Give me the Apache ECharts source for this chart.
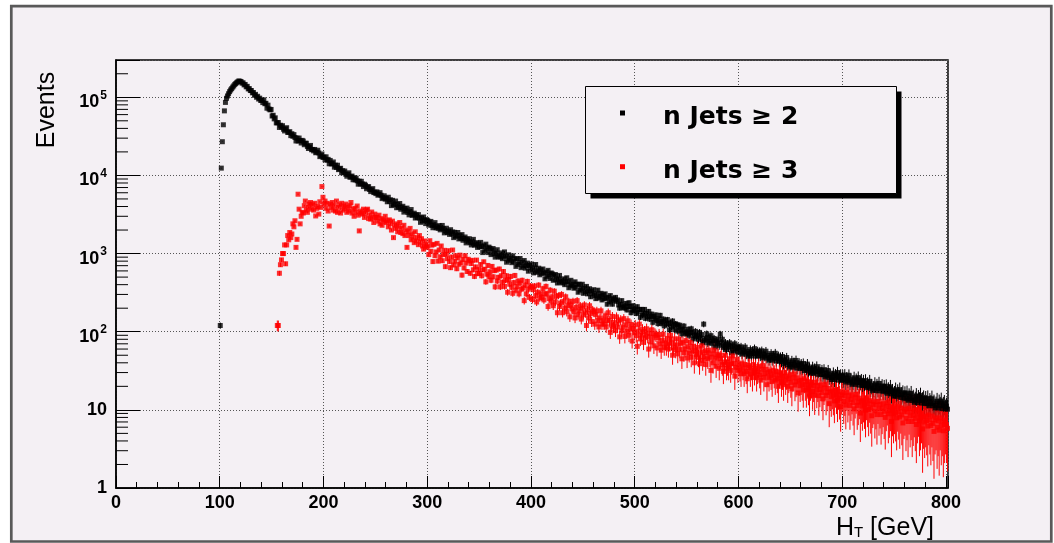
<!DOCTYPE html>
<html>
<head>
<meta charset="utf-8">
<script src="https://cdn.jsdelivr.net/npm/echarts@6/dist/echarts.min.js"></script>
<style>
html,body{margin:0;padding:0;background:#ffffff;}
#chart{width:1054px;height:543px;}
</style>
</head>
<body>
<div id="chart"></div>
<script>
// ---------------- data ----------------
const seriesNames = ['n Jets \u2265 2', 'n Jets \u2265 3'];
const xAxisTitle = 'H';
const xAxisTitleSub = 'T';
const xAxisTitleUnit = ' [GeV]';
const yAxisTitle = 'Events';
const xMin = 0, xMax = 802, xStep = 100;
const yMin = 1, yMax = 3e5;
const binWidth = 1;
const nJets2FirstBin = 100;
const nJets3FirstBin = 155;

// events per 1 GeV bin, n Jets >= 2 (black), bins 100..801
const nJets2 = [
120,12400,27000,44500,67000,86000,97000,104000,111000,118000,
124000,129000,135000,140000,146000,150000,155000,158000,162000,160000,
159000,152000,153000,144000,146000,136000,138000,128000,129000,122000,
122000,114000,115000,106000,109000,100000,103000,95000,97500,91000,
91900,85500,92700,82700,83800,72500,79300,70800,69000,69900,
57600,58900,52900,54600,47000,47200,47500,41100,43900,41600,
43300,39000,37100,39400,40800,35500,35600,36300,32300,34200,
31700,33300,30600,27600,30000,27600,30100,27900,26000,28100,
27500,24700,25800,25800,23500,22100,23100,24200,21300,21500,
20600,21500,19500,19900,21000,19400,17400,17900,18800,17000,
17170,15870,17300,15630,16050,14100,15550,14050,14150,14870,
12760,13530,12650,13510,11860,12140,12340,10800,11520,10930,
11390,10340,9770,10340,10800,9470,9570,9820,8800,9350,
8770,9240,8540,7730,8440,7780,8410,7780,7200,7720,
7490,6750,7120,7190,6600,6210,6520,6780,6030,6110,
5850,6160,5580,5730,6020,5580,5050,5220,5490,4970,
5090,4600,5260,4650,4880,4110,4800,4220,4320,4700,
3860,4240,3920,4370,3690,3870,4030,3390,3770,3550,
3820,3360,3130,3430,3660,3080,3160,3290,2850,3130,
2890,3150,2850,2510,2870,2610,2940,2670,2420,2720,
2640,2310,2510,2580,2300,2140,2320,2490,2140,2210,
2100,2280,2010,2110,2290,2080,1840,1950,2110,1860,
1930,1760,2020,1790,1890,1600,1870,1660,1705,1860,
1540,1700,1570,1750,1480,1560,1630,1370,1530,1440,
1550,1380,1290,1410,1520,1280,1320,1380,1200,1330,
1220,1390,1225,1030,1260,1100,1320,1170,1030,1210,
1170,970,1110,1160,1000,900,1020,1120,910,960,
900,1020,860,930,1050,930,775,855,965,820,
870,765,935,790,860,685,860,725,762,865,
660,770,695,815,650,705,755,595,705,655,
735,620,565,655,725,575,600,650,535,620,
560,635,560,475,580,510,610,540,480,565,
550,455,520,540,465,420,475,525,430,450,
420,475,400,435,490,435,365,400,455,385,
405,360,435,370,405,320,405,340,357,405,
310,360,325,380,305,330,355,280,330,305,
345,290,265,305,340,270,285,310,255,295,
265,305,268,225,275,240,290,255,225,265,
255,275,245,255,220,200,225,250,205,215,
200,230,190,210,235,210,175,190,215,185,
195,171,209,178,193,153,193,163,170,193,
148,172,156,182,145,158,168,132,156,146,
164,139,127,146,162,128,135,145,119,139,
125,143,126,106,130,115,137,121,106,126,
123,102,116,121,105,94,107,118,96,100,
94,107,90,97,109,97,81,89,101,86,
91,80,98,83,92,73,125,78,82,94,
72,84,76,89,71,77,82,64,76,71,
80,67,93,72,80,63,66,72,59,69,
63,72,64,54,66,58,70,61,55,64,
62.5,55,64,52,58.5,54.7,63.4,51.7,55.8,48.8,
52.3,59.1,49,56.4,52.4,60.7,48.7,53.2,56.7,49,
55.7,49,57,46.3,52.1,48.7,56.3,46,49.7,43.4,
46.6,52.5,43.3,49.6,45.9,53,42.2,46,48.8,42,
47.4,41.5,48.1,38.9,43.6,40.5,46.7,37.9,40.7,35.5,
37.8,42.6,35.2,40.2,37.2,42.9,34.3,37.3,39.6,34,
38.5,33.8,39.2,31.8,35.7,33.3,38.5,31.4,33.8,29.5,
31.4,35.4,29.3,33.5,30.9,35.7,28.5,31,32.8,28.4,
32,28.1,32.6,26.5,29.7,27.6,31.9,26,28,24.5,
26.1,29.5,24.4,28,26,30.1,24,26.2,27.8,24.1,
27.2,24,27.9,22.7,25.5,23.8,27.7,22.5,24.3,21.3,
22.8,25.7,21.2,24.3,22.5,25.9,20.7,22.5,23.9,20.6,
23.2,20.4,23.7,19.2,21.5,20.1,23.2,18.9,20.3,17.8,
19,21.5,17.7,20.4,18.8,21.8,17.5,19,20.2,17.4,
19.7,17.3,20.1,16.3,18.3,17.1,19.7,16,17.3,15,
16.2,18.1,14.9,17.1,15.7,18.1,14.4,15.6,16.5,14.1,
16,14.1,16.4,13.3,15,14,16.2,13.2,14.3,12.5,
13.4,15.1,12.4,14.2,13.2,15.3,12.2,13.2,14,12.1,
13.7,12,14,11.3,12.8,12,13.9,11.3,12.2,10.6,
11.4,12.9,10.6,12.2,11.3,13,10.4,11.3,12,10.3,
11.0,10.2
];

// events per 1 GeV bin, n Jets >= 3 (red), bins 155..801
const nJets3 = [
120,120,560,720,830,
1000,1000,1290,740,1290,1700,1500,1860,1600,1780,
2400,2200,2630,1200,1520,5750,3700,2400,3000,3370,
3300,4100,4700,3600,3370,3900,4300,4500,3700,4200,
3600,4400,3030,3800,4000,3200,4600,3900,7200,5250,
4300,4700,3800,4400,3500,2250,4300,3900,4500,3600,
4100,3500,4700,3370,3900,4200,3300,4400,3600,4060,
3800,4300,3370,3900,3500,4100,4500,3300,3700,3000,
3800,3400,4060,3100,1950,3500,3300,3200,3700,2900,
3300,3600,3700,2800,3100,2760,3400,2900,2500,3200,
2900,2900,2600,3100,2400,2800,2300,2700,2600,3000,
2500,2630,2200,2700,2400,2000,2600,1600,2300,2100,
2400,1900,2200,2500,1860,2100,1800,2300,1700,2000,
1200,1900,1700,2100,1500,1800,1600,1380,1900,1450,
1600,1300,1700,1400,1550,1250,1140,1450,1300,1200,
1250,970,1460,1070,1280,790,1310,940,1050,1350,
800,1110,910,1250,810,970,1100,680,980,860,
1090,790,660,905,1110,715,800,940,640,880,
730,955,762,530,840,655,940,755,590,845,
805,560,745,820,620,510,675,825,555,625,
555,725,520,620,785,630,435,545,705,510,
585,455,685,505,605,375,615,445,497,635,
375,520,430,590,380,455,520,320,465,405,
510,370,310,425,525,340,380,445,305,420,
350,455,362,250,395,305,440,350,275,385,
370,258,345,385,290,240,320,395,270,305,
275,355,255,305,380,305,210,265,340,245,
280,215,330,240,285,175,290,210,233,300,
175,245,200,280,180,215,245,155,220,195,
245,180,150,205,250,165,185,215,145,200,
165,220,174,120,190,150,215,170,135,190,
180,125,165,185,140,115,150,185,125,140,
125,160,115,140,175,140,98,122,157,115,
131,103,155,115,137,86,142,102,115,147,
87,122,101,138,90,108,124,76,110,97,
122,89,65,102,125,81,91,107,73,101,
84,109,87,60,95,74,106,85,66,94,
90,62,84,92,70,58,77,93,63,72,
63,82,60,71,90,72,50,63,81,59,
68,52,81,59,71,45,73,54,60,77,
46,64,53,73,47,57,65,40,57,51,
63,47,39,54,66,43,48,57,38,54,
45,58,47,32,52,40,58,46,36,51,
49,34,45,50,38,31,41,50,34,38,
34,45,32,39,49,39,27,35,44,32,
38,33,29,39,34,29,38,31,25,35,
37,29,34,26,38,30,34,26,31,36,
28,24,33,37,26,29,33,21,30,26,
31,27,23,32,28,24,31,25,20,28,
30,23,27,21,30,24,27,20,25,28,
22.5,18.6,25.8,28.8,20.8,22.8,25.7,16.5,23.4,20.4,
24,21,18,25,21,18,23,19,15,21,
22.4,17.2,20.4,15.4,22.5,17.8,20.4,15.2,18.2,20.9,
16.7,13.8,19.1,21.2,15.3,16.7,18.8,12,17,14.8,
17.4,15.3,13,18,15.7,13.3,17.2,14,11,15.5,
16.6,12.8,15.1,11.5,16.8,13.2,15.2,11.4,13.6,15.6,
12.4,10.3,14.3,15.8,11.4,12.5,14.1,9.1,12.8,11.2,
13.2,11.6,9.9,13.8,12,10.1,13.1,10.6,8.4,11.8,
12.7,9.7,11.5,8.7,12.8,10.2,11.7,8.7,10.5,12,
9.6,8,11.1,12.4,8.9,9.8,11.1,7.1,10.1,8.9,
10.5,9.2,7.9,11,9.5,8.1,10.6,8.6,6.8,9.6,
10.2,7.8,9.4,7.1,10.4,8.3,9.4,7.1,8.5,9.9,
7.8,6.5,8.9,10,7.2,7.9,8.9,5.7,8.1,7,
8.3,7.3,6.2,8.6,7.4,6.3,8.3,6.7,5.3,7.4,
7.9,6,7.2,5.5,7.9,6.3,7.2,5.4,6.5,7.4,
6.5,5.8
];
// event weights used for the statistical error bars (error = sqrt(w * N))
const nJets2Weight = 1;
const nJets3Weight = 3;

// ---------------- styling ----------------
const FONT = '"Liberation Sans", Arial, Helvetica, sans-serif';
const LEGEND_FONT = '"DejaVu Sans", "Liberation Sans", Arial, sans-serif';
const BG = '#f4f0f4';
const colors = ['#000000', '#ff0000'];

function toPoints(vals, first) {
  return vals.map((v, i) => [first + (i + 0.5) * binWidth, v]);
}
const pts2 = toPoints(nJets2, nJets2FirstBin);
const pts3 = toPoints(nJets3, nJets3FirstBin);

function errorSeries(name, color, pts, w) {
  return {
    type: 'custom', name: name, silent: true, clip: true,
    data: pts.map(p => [p[0], p[1], Math.sqrt(w * p[1])]),
    encode: { x: 0, y: 1 },
    renderItem: function (params, api) {
      const x = api.value(0), v = api.value(1), e = api.value(2);
      const lo = Math.max(v - e, yMin);
      const a = api.coord([x, lo]);
      const b = api.coord([x, v + e]);
      return { type: 'line', shape: { x1: a[0], y1: a[1], x2: b[0], y2: b[1] },
               style: { stroke: color, lineWidth: 1 } };
    }
  };
}

// minor ticks of the log axis at 2..9 x 10^n
const minorY = [];
for (let n = 0; Math.pow(10, n) < yMax; n++) {
  for (let k = 2; k <= 9; k++) {
    const v = k * Math.pow(10, n);
    if (v < yMax) minorY.push([xMin, v]);
  }
}

// legend box geometry
const LG = { x: 585.5, y: 86.5, w: 311, h: 107, shadow: 5,
             markX: 622.5, textX: 663, rows: [113, 166.7], textDy: 4.5, mark: 5 };

const legendGraphics = [
  { type: 'rect', z: 5, shape: { x: LG.x + LG.shadow, y: LG.y + LG.shadow, width: LG.w, height: LG.h },
    style: { fill: '#000' } },
  { type: 'rect', z: 6, shape: { x: LG.x, y: LG.y, width: LG.w, height: LG.h },
    style: { fill: BG, stroke: '#000', lineWidth: 1 } }
];
seriesNames.forEach((nm, i) => {
  legendGraphics.push({ type: 'rect', z: 7,
    shape: { x: LG.markX - LG.mark / 2, y: LG.rows[i] - LG.mark / 2, width: LG.mark, height: LG.mark },
    style: { fill: colors[i] } });
  legendGraphics.push({ type: 'text', z: 7, x: LG.textX, y: LG.rows[i] + LG.textDy,
    style: { text: nm, fontFamily: LEGEND_FONT, fontSize: 25, fontWeight: 'bold', fill: '#000',
             align: 'left', verticalAlign: 'middle' } });
});

const chart = echarts.init(document.getElementById('chart'), null, { renderer: 'canvas' });
const option = {
  animation: false,
  backgroundColor: '#ffffff',
  grid: { left: 116, right: 106, top: 60, bottom: 55, show: true,
          borderColor: '#000', borderWidth: 1.5, backgroundColor: 'transparent' },
  xAxis: {
    type: 'value', min: xMin, max: xMax, interval: xStep,
    axisLine: { show: true, onZero: false, lineStyle: { color: '#000', width: 1.5 } },
    axisTick: { show: true, inside: true, length: 12, lineStyle: { color: '#000', width: 1 } },
    minorTick: { show: true, splitNumber: 5, length: 6, lineStyle: { color: '#000', width: 1 } },
    axisLabel: { margin: 6, color: '#000', fontFamily: FONT, fontSize: 18, fontWeight: 'bold',
      formatter: v => (Math.abs(v % xStep) < 1e-9 ? String(v) : '') },
    splitLine: { show: true, lineStyle: { color: '#555', width: 1, type: [1, 2] } },
    minorSplitLine: { show: false }
  },
  yAxis: {
    type: 'log', logBase: 10, min: yMin, max: yMax,
    axisLine: { show: true, onZero: false, lineStyle: { color: '#000', width: 1.5 } },
    axisTick: { show: true, inside: true, length: 24, lineStyle: { color: '#000', width: 1 } },
    minorTick: { show: false },
    axisLabel: {
      margin: 9, color: '#000', fontFamily: FONT, fontSize: 18, fontWeight: 'bold',
      formatter: function (v) {
        const l = Math.log10(v), e = Math.round(l);
        if (Math.abs(l - e) > 1e-6) return '';
        if (e === 0) return '1';
        if (e === 1) return '10';
        return '{b|10}{s|' + e + '}';
      },
      rich: {
        b: { fontFamily: FONT, fontSize: 18, fontWeight: 'bold', color: '#000', padding: [10, 0, 0, 0] },
        s: { fontFamily: FONT, fontSize: 12, fontWeight: 'bold', color: '#000', padding: [6, 0, 10, 1] }
      }
    },
    splitLine: { show: true, lineStyle: { color: '#555', width: 1, type: [1, 2] } }
  },
  graphic: [
    { type: 'rect', z: -10, shape: { x: 11.3, y: 6.2, width: 1040, height: 535.3 },
      style: { fill: BG, stroke: '#595959', lineWidth: 2.7 } },
    { type: 'text', z: 6, x: 47, y: 110, rotation: Math.PI / 2,
      style: { text: yAxisTitle, fontFamily: FONT, fontSize: 25, fill: '#000',
               align: 'center', verticalAlign: 'middle' } },
    { type: 'text', z: 6, x: 934, y: 528,
      style: { text: '{h|' + xAxisTitle + '}{t|' + xAxisTitleSub + '}{h|' + xAxisTitleUnit + '}',
               align: 'right', verticalAlign: 'middle', fill: '#000',
               rich: { h: { fontFamily: FONT, fontSize: 25, fill: '#000' },
                       t: { fontFamily: FONT, fontSize: 15, fill: '#000', padding: [9, 0, 0, 0] } } } }
  ].concat(legendGraphics),
  series: [
    { type: 'custom', name: 'yMinorTicks', silent: true, clip: false, data: minorY,
      encode: { x: 0, y: 1 },
      renderItem: function (params, api) {
        const p = api.coord([api.value(0), api.value(1)]);
        return { type: 'line', shape: { x1: p[0], y1: p[1], x2: p[0] + 12, y2: p[1] },
                 style: { stroke: '#000', lineWidth: 1 } };
      } },
    errorSeries('err2', colors[0], pts2, nJets2Weight),
    { type: 'scatter', name: seriesNames[0], data: pts2, symbol: 'rect', symbolSize: 5,
      itemStyle: { color: colors[0] }, silent: true, large: false },
    errorSeries('err3', colors[1], pts3, nJets3Weight),
    { type: 'scatter', name: seriesNames[1], data: pts3, symbol: 'rect', symbolSize: 5,
      itemStyle: { color: colors[1] }, silent: true, large: false }
  ]
};
chart.setOption(option);
</script>
</body>
</html>
